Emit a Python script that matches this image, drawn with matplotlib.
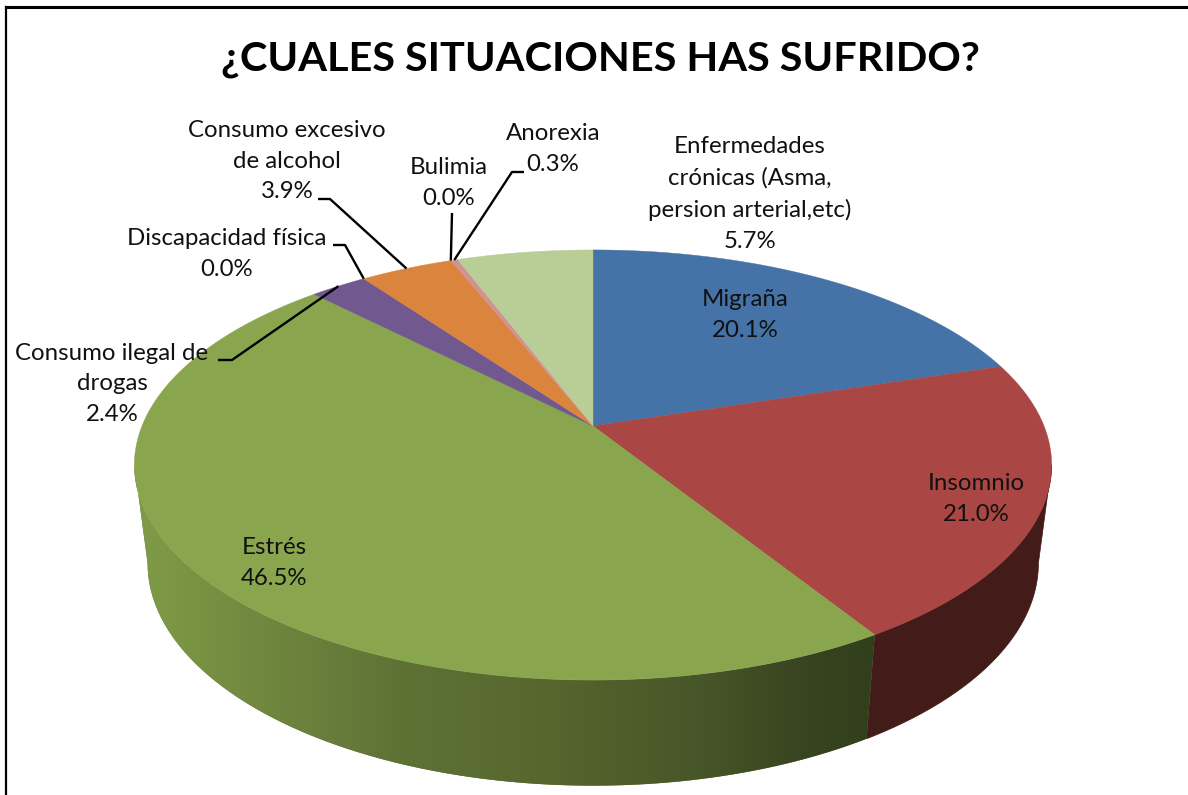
import numpy as np
import matplotlib
matplotlib.use('Agg')
import matplotlib.pyplot as plt
from matplotlib.colors import to_rgb
from matplotlib.patches import Polygon

# pie data, clockwise from the top
categories = ['Migraña', 'Insomnio', 'Estrés', 'Consumo ilegal de\ndrogas', 'Discapacidad física',
              'Consumo excesivo\nde alcohol', 'Bulimia', 'Anorexia',
              'Enfermedades\ncrónicas (Asma,\npersion arterial,etc)']
values = [20.1, 21.0, 46.5, 2.4, 0.0, 3.9, 0.0, 0.3, 5.7]
title = '¿CUALES SITUACIONES HAS SUFRIDO?'

colors = ['#4572A7', '#AA4643', '#89A54E', '#71588F', '#4198AF', '#DB843D', '#93A9CF', '#D19392', '#B9CD96']
RED_SIDE = '#431B18'

# label centres in pixels
label_pos = [(745, 315), (976, 499), (274, 563), (112, 384), (227, 254), (287, 161), (449, 183), (553, 149), (750, 194)]
# leader start and elbow, only for the small slices
leaders = {3: [(218, 360), (232, 360)], 4: [(333, 245), (345, 245)], 5: [(318, 199), (330, 199)],
           6: [(452, 213), (452, 213)], 7: [(524, 172), (512, 172)]}

plt.rcParams['font.family'] = 'Lato'

# perspective of the top and bottom discs
CX = 593
P = 0.1814
# angle where the disc is widest, the side wall outline starts there
WIDEST = np.arccos(-P)


def top_rim(theta):
    w = 1 + P * np.cos(theta)
    return CX + 451 * np.sin(theta) / w, 426 - 208 * np.cos(theta) / w


def bottom_rim(theta):
    w = 1 + P * np.cos(theta)
    return CX + 438 * np.sin(theta) / w, 523 - 215 * np.cos(theta) / w


def side_polygon(a, b):
    t = np.linspace(a, b, 200)
    x0, y0 = top_rim(t)
    x1, y1 = bottom_rim(t[::-1])
    return np.column_stack([np.r_[x0, x1], np.r_[y0, y1]])


fig = plt.figure(figsize=(11.88, 7.95), dpi=100)
ax = fig.add_axes([0, 0, 1, 1])
ax.set_xlim(0, 1188)
ax.set_ylim(795, 0)
ax.axis('off')

ax.plot([6, 6], [795, 7], color='black', lw=1.6)
ax.plot([6, 1188], [7, 7], color='black', lw=2.2)

edges = np.cumsum([0] + values) / sum(values) * 2 * np.pi

# side wall, green one has a left to right gradient
ax.add_patch(Polygon(side_polygon(WIDEST, edges[2]), closed=True, color=RED_SIDE, lw=0.5))

green_poly = Polygon(side_polygon(edges[2], 2 * np.pi - WIDEST), closed=True, facecolor='#5F7236', lw=0, transform=ax.transData)
ax.add_patch(green_poly)
grad_x = np.arange(130, 880)
stops_x = [140, 400, 520, 700, 800, 870]
stops_c = np.array([to_rgb(c) for c in ['#7F9B47', '#5F7236', '#58692F', '#475628', '#394520', '#323F1C']])
grad = np.stack([np.interp(grad_x, stops_x, stops_c[:, k]) for k in range(3)], axis=-1)[np.newaxis, :, :]
im = ax.imshow(grad, extent=(130, 880, 800, 440), aspect='auto', interpolation='bilinear', zorder=1.1)
im.set_clip_path(green_poly)
ax.set_xlim(0, 1188)
ax.set_ylim(795, 0)

# top face
for i in range(len(values)):
    a, b = edges[i], edges[i + 1]
    if a == b:
        continue
    t = np.linspace(a, b, 200)
    x, y = top_rim(t)
    ax.fill(np.r_[CX, x], np.r_[426, y], color=colors[i], lw=0.3, zorder=2)

# leader lines run to the rim at the middle of the slice
for i, pts in leaders.items():
    ex, ey = top_rim((edges[i] + edges[i + 1]) / 2)
    xs = [p[0] for p in pts] + [ex]
    ys = [p[1] for p in pts] + [ey]
    ax.plot(xs, ys, color='black', lw=1.7, solid_capstyle='butt', zorder=3)

for name, v, pos in zip(categories, values, label_pos):
    ax.text(pos[0], pos[1], name + '\n' + f'{v:.1f}%', ha='center', va='center', fontsize=17.3,
            color='#111111', linespacing=1.58, zorder=4)

ax.text(600, 60, title, ha='center', va='center', fontsize=29.8, fontweight='bold', color='black')

fig.savefig('out.png', dpi=100)
